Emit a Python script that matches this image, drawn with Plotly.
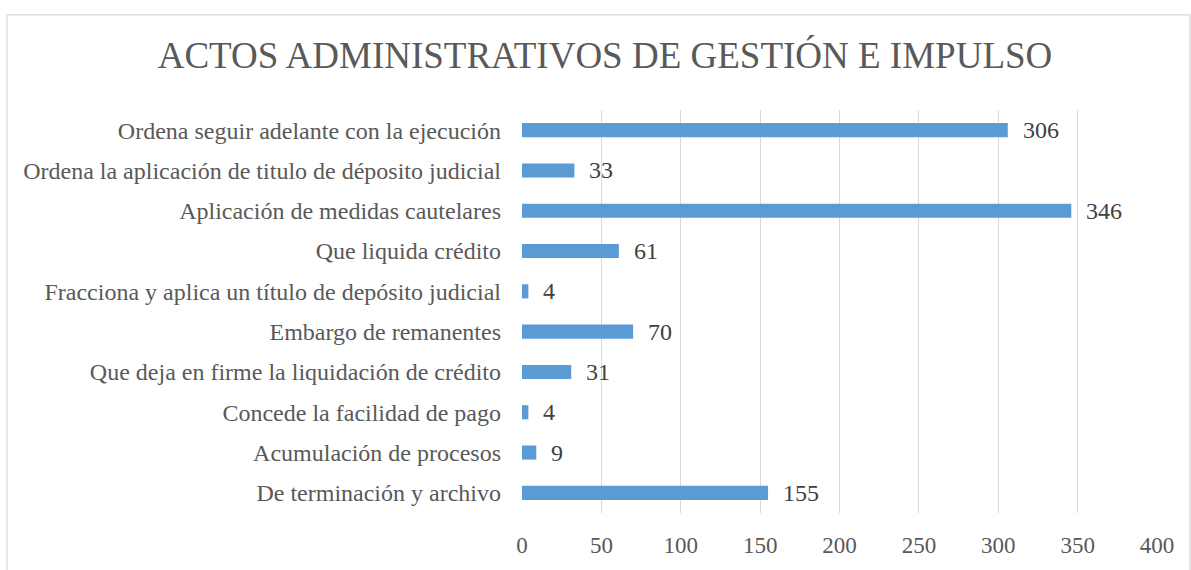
import plotly.graph_objects as go

categories = [
    "Ordena seguir adelante con la ejecución",
    "Ordena la aplicación de titulo de déposito judicial",
    "Aplicación de medidas cautelares",
    "Que liquida crédito",
    "Fracciona y aplica un título de depósito judicial",
    "Embargo de remanentes",
    "Que deja en firme la liquidación de crédito",
    "Concede la facilidad de pago",
    "Acumulación de procesos",
    "De terminación y archivo",
]
values = [306, 33, 346, 61, 4, 70, 31, 4, 9, 155]
x_ticks = [0, 50, 100, 150, 200, 250, 300, 350, 400]
title_text = "ACTOS ADMINISTRATIVOS DE GESTIÓN E IMPULSO"

FONT = "Liberation Serif"
W, H = 1191, 570
L, R, T, B = 522, 34, 110, 53

fig = go.Figure(go.Bar(
    y=categories, x=values, orientation="h",
    marker=dict(color="#5B9BD5", line=dict(width=0)),
    width=0.35,
    hoverinfo="skip",
))

for c, v in zip(categories, values):
    fig.add_annotation(x=v, y=c, text=str(v), showarrow=False,
                       xanchor="left", xshift=13,
                       font=dict(family=FONT, size=24, color="#404040"))

fig.update_layout(
    width=W, height=H,
    margin=dict(l=L, r=R, t=T, b=B),
    paper_bgcolor="white", plot_bgcolor="white",
    showlegend=False,
    title=dict(text=title_text, x=605 / W, xanchor="center", xref="container",
               y=1 - 55 / H, yanchor="middle", yref="container",
               font=dict(family=FONT, size=37, color="#595959")),
    xaxis=dict(range=[0, 400], tickvals=x_ticks, showgrid=True,
               gridcolor="#D9D9D9", gridwidth=1.3, zeroline=False,
               showline=False, ticks="", ticklabelstandoff=16,
               tickfont=dict(family=FONT, size=23, color="#595959")),
    yaxis=dict(categoryorder="array", categoryarray=categories[::-1],
               showgrid=False, showline=False, zeroline=False, ticks="",
               ticklabelstandoff=20,
               tickfont=dict(family=FONT, size=24, color="#595959")),
)

# outer chart border (light gray frame)
fig.add_shape(type="rect", xref="paper", yref="paper",
              x0=(7 - L) / (W - L - R), x1=(1190 - L) / (W - L - R),
              y0=-(B + 20) / (H - T - B), y1=(H - 14 - B) / (H - T - B),
              line=dict(color="#D9D9D9", width=1.3), layer="below")

fig.write_html("out.html", config={"displayModeBar": False},
               post_script="document.body.style.margin='0';document.body.style.overflow='hidden';")
